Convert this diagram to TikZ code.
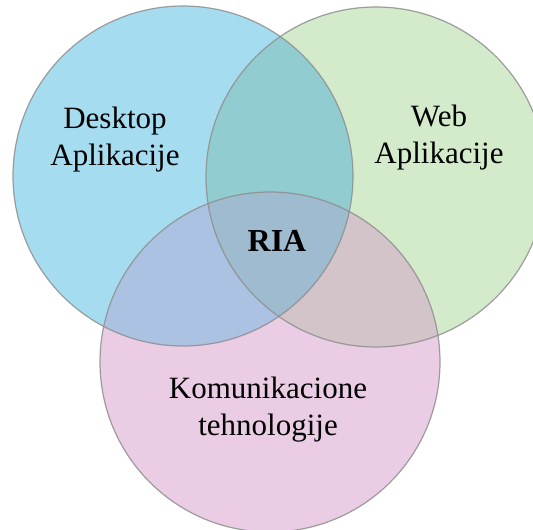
\documentclass[tikz,border=0pt]{standalone}
\usepackage{fontspec}
\setmainfont{Liberation Serif}
\usetikzlibrary{positioning}
\definecolor{desktopblue}{HTML}{A6DCF0}
\definecolor{webgreen}{HTML}{D3EBCB}
\definecolor{komupink}{HTML}{EACDE4}
\definecolor{deskweb}{HTML}{91CCD1}
\definecolor{deskkomu}{HTML}{ABC2E2}
\definecolor{webkomu}{HTML}{D3C4C9}
\definecolor{riafill}{HTML}{9EBBCF}
\definecolor{rimgray}{HTML}{8E8E8E}
\tikzset{
  vennline/.style={draw=rimgray, line width=1.2pt, draw opacity=0.85},
  venntext/.style={font=\fontsize{31}{36.5}\selectfont, align=center, anchor=base, inner sep=0pt},
  riatext/.style={font=\fontsize{32}{36}\selectfont\bfseries, anchor=base, inner sep=0pt}
}
\begin{document}
\begin{tikzpicture}[x=1pt,y=-1pt]
  \useasboundingbox (0,0) rectangle (533,530);
  \clip (0,0) rectangle (533,530);
  \coordinate (desk) at (183,176);
  \coordinate (web) at (376,177);
  \coordinate (komu) at (270,362);
  \fill[desktopblue] (desk) circle[radius=170pt];
  \fill[webgreen] (web) circle[radius=170pt];
  \fill[komupink] (komu) circle[radius=170pt];
  \begin{scope}
    \clip (web) circle[radius=170pt];
    \fill[webkomu] (komu) circle[radius=170pt];
  \end{scope}
  \begin{scope}
    \clip (desk) circle[radius=170pt];
    \fill[deskweb] (web) circle[radius=170pt];
    \fill[deskkomu] (komu) circle[radius=170pt];
    \clip (web) circle[radius=170pt];
    \fill[riafill] (komu) circle[radius=170pt];
  \end{scope}
  \foreach \c in {desk,web,komu}{
    \draw[vennline] (\c) circle[radius=170pt];
  }
  \node[venntext] (desklabel) at (115,165) {Desktop\\Aplikacije};
  \node[venntext] (weblabel) at (439,163) {Web\\Aplikacije};
  \node[venntext] (komulabel) at (268,435) {Komunikacione\\tehnologije};
  \node[riatext] (ria) at (277,251) {RIA};
\end{tikzpicture}
\end{document}
